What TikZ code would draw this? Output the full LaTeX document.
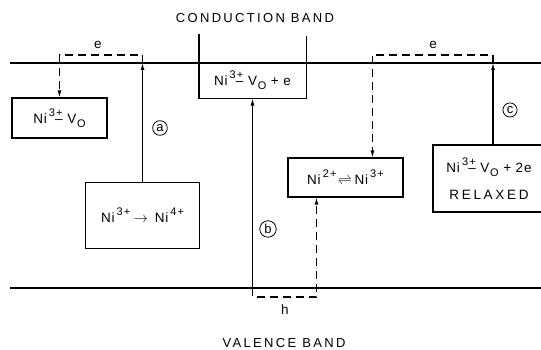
\documentclass[tikz,border=0pt]{standalone}
\usepackage{fontspec}
\setmainfont{Liberation Sans}
\usetikzlibrary{calc, arrows.meta}

% charge up, index down (lettering style)
\newcommand{\chg}[1]{\raisebox{.5em}{\fontsize{11}{11}\selectfont #1}}
\newcommand{\idx}[1]{\raisebox{-.3em}{\fontsize{11}{11}\selectfont #1}}
% Ni^{3+}-V_O defect pair
\newcommand{\nivo}{Ni\kern.15em\chg{3\kern.1em+}\kern-.55em–\kern.35em V\kern.05em\idx{O}}

\begin{document}
\begin{tikzpicture}[
  x=1pt, y=1pt, line width=1.1pt,
  box/.style={draw, inner sep=0pt, font=\fontsize{13.5}{27}\selectfont\addfontfeatures{LetterSpace=6}},
  band/.style={font=\fontsize{13}{15}\selectfont\addfontfeatures{LetterSpace=18}},
  tip/.style={-{Latex[length=7pt, width=4pt]}},
  dline/.style={dash pattern=on 8pt off 5pt},
  tag/.style={draw, circle, line width=0.8pt, inner sep=1.6pt, font=\fontsize{13}{13}\selectfont},
  lbl/.style={font=\fontsize{13.5}{15}\selectfont},
]
\clip (0,0) rectangle (541,350);

% 能带
\coordinate (cbL) at (10,287);
\coordinate (cbR) at (545,287);
\coordinate (vbL) at (10,62);
\coordinate (vbR) at (545,62);
\draw (cbL) -- (cbR);
\draw (vbL) -- (vbR);
\node[band] (cb) at (255,332) {CONDUCTION BAND};
\node[band] (vb) at (284,7) {VALENCE BAND};

% 方框
\node[box, minimum width=95, minimum height=40] (nivo) at (59.5,232) {\nivo};
\node[box, minimum width=114, minimum height=66] (ni34) at (142.5,134.5)
  {Ni\kern.15em\chg{3\kern.1em+}\kern.25em$\rightarrow$\kern.5em Ni\kern.15em\chg{4\kern.1em+}};
\node[box, draw=none, minimum width=106, minimum height=35] (nivoe) at (252.5,269.5) {\nivo{} + e};
\draw ($(nivoe.north west)+(0,28)$) |- (nivoe.south east) -- ++(0,63);
\node[box, minimum width=115, minimum height=39] (ni23) at (345.5,172.5)
  {Ni\kern.15em\chg{2\kern.1em+}\kern.1em$\rightleftharpoons$\kern.2em Ni\kern.15em\chg{3\kern.1em+}};
\node[box, align=center, minimum width=112, minimum height=67] (relax) at (489,171.5)
  {\nivo{} + 2e\\\addfontfeatures{LetterSpace=20}RELAXED};

% 过程 (a)
\coordinate (ca) at (ni34.north |- cbL);
\draw[tip] (ni34.north) -- (ca);
\draw[dline, tip] (ca) -- ++(0,8) -| (nivo.north);
\node[lbl] (ea) at (98,305) {e};
\node[tag] (ta) at (160,222) {a};

% 过程 (b)
\coordinate (vbb) at (nivoe.south |- vbL);
\coordinate (hb) at ($(ni23.south west)+(29,0)$);
\draw[tip] (vbb) -- (nivoe.south);
\draw[dline, tip] (vbb) -- ++(0,-9) -| (hb);
\node[lbl] (hl) at (285,40) {h};
\node[tag] (tb) at (268,121) {b};

% 过程 (c)
\coordinate (rc) at ($(relax.north)+(4,0)$);
\coordinate (cc) at (rc |- cbL);
\coordinate (ec) at ($(ni23.north west)+(85,0)$);
\draw[tip] (rc) -- (cc);
\draw[dline, tip] (cc) -- ++(0,8) -| (ec);
\node[lbl] (el) at (433,305) {e};
\node[tag] (tc) at (510,240) {c};

\end{tikzpicture}
\end{document}
